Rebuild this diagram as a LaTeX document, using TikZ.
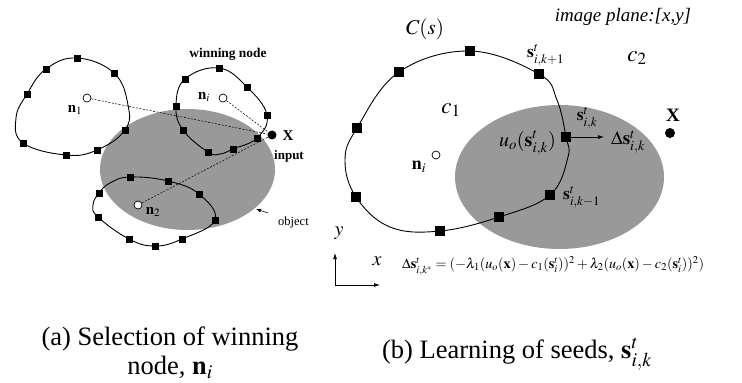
\documentclass[tikz,border=0pt]{standalone}
\usepackage{mathptmx}
\usepackage[no-math]{fontspec}
\setmainfont{Liberation Serif}
\usetikzlibrary{arrows.meta}
\newcommand{\fsz}[1]{\fontsize{#1}{1.2\dimexpr #1pt\relax}\selectfont}
\begin{document}
\begin{tikzpicture}[x=1pt,y=-1pt,
  sq/.style={rectangle,fill=black,draw=none,minimum size=7pt,inner sep=0pt,outer sep=0pt},
  bsq/.style={sq,minimum size=10pt},
  seedc/.style={circle,draw=black,fill=white,minimum size=8pt,inner sep=0pt,line width=0.7pt},
  blackdot/.style={circle,fill=black,minimum size=9pt,inner sep=0pt},
  contour/.style={line width=0.9pt},
  obj/.style={fill=black!40},
  dashln/.style={line width=0.5pt,dash pattern=on 2pt off 1.5pt},
  lbl/.style={inner sep=0pt},
  arr/.style={-{Latex[length=6pt,width=4pt]},line width=0.7pt}]
\useasboundingbox (0,0) rectangle (742,383);

% ---------- (a) ----------
\fill[obj] (187.5,169.5) ellipse [x radius=87.5pt, y radius=60.5pt];

\draw[contour] plot[smooth cycle, tension=0.7] coordinates {(77,58) (114,73) (128,105) (125,130) (97,150) (66,155) (23,143) (16,118) (27,94) (46,69)};
\draw[contour] plot[smooth cycle, tension=0.7] coordinates {(219,68) (247,87) (267,115) (257,138) (233,149) (220,154) (208,152) (183,130) (176,106) (185,79)};
\draw[contour] plot[smooth cycle, tension=0.7] coordinates {(130,177) (168,181) (199,194) (215,220) (182,239) (155,246) (129,239) (98,217) (93,205) (99,193) (110,183)};

\foreach \p [count=\i] in {(77,58),(114,73),(125,130),(97,150),(66,155),(23,143),(27,94),(46,69)} \node[sq] (la\i) at \p {};
\foreach \p [count=\i] in {(219,68),(247,87),(267,115),(257,138),(233,149),(208,152),(183,130),(176,106),(185,79)} \node[sq] (lb\i) at \p {};
\foreach \p [count=\i] in {(130,177),(168,181),(199,194),(215,220),(182,239),(155,246),(129,239),(98,217),(99,193)} \node[sq] (lc\i) at \p {};

\node[blackdot] (X) at (272,135) {};
\node[seedc] (n1) at (87,98) {};
\node[seedc] (ni) at (223,98) {};
\node[seedc] (n2) at (138,205) {};
\draw[dashln] (n1) -- (X);
\draw[dashln] (ni) -- (X);
\draw[dashln] (n2) -- (X);

\node[lbl,font=\fsz{15}] (n1l) at (75,110) {$\mathbf{n}_1$};
\node[lbl,font=\fsz{15}] (nil) at (204,97) {$\mathbf{n}_i$};
\node[lbl,font=\fsz{15}] (n2l) at (153,212) {$\mathbf{n}_2$};
\node[lbl,font=\fsz{13.4}\bfseries] (win) at (228,54) {winning node};
\node[lbl,font=\fsz{15}\bfseries] (Xl) at (288,136) {X};
\node[lbl,font=\fsz{13}\bfseries] (inp) at (289,156) {input};
\node[lbl,anchor=west,font=\fsz{12.5}] (objl) at (278,222) {object};
\coordinate (objtail) at (268,213);
\coordinate (objtip) at (256,209);
\draw[-{Latex[length=5pt,width=4pt]},line width=0.6pt] (objtail) -- (objtip);

\node[lbl,align=center,font=\fontsize{26.5}{28.5}\selectfont] (capa) at (170,353) {(a) Selection of winning\\ node, $\mathbf{n}_i$};

% ---------- (b) ----------
\fill[obj] (559.5,177) ellipse [x radius=104.5pt, y radius=72pt];
\draw[contour] plot[smooth cycle, tension=0.65] coordinates {(470,51) (539,74) (557,100) (566,137) (568,157) (550,195) (499,217) (440,231) (390,227) (356,197) (345,160) (357,128) (399,72)};
\foreach \p [count=\i] in {(470,51),(539,74),(566,137),(550,195),(499,217),(440,231),(356,197),(357,128),(399,72)} \node[bsq] (r\i) at \p {};

\node[seedc] (nir) at (436,155) {};
\node[lbl,font=\fsz{18}] (nirl) at (419,167) {$\mathbf{n}_i$};
\node[lbl,font=\fsz{21}] (Cs) at (425,29) {$C(s)$};
\node[lbl,font=\fsz{19}\itshape] (ip) at (623,17) {image plane:[x,y]};
\node[lbl,font=\fsz{23}] (c1) at (451,110) {$c_1$};
\node[lbl,font=\fsz{23}] (c2) at (637,58) {$c_2$};
\node[lbl,font=\fsz{19}\bfseries] (Xr) at (673,115) {X};
\node[blackdot,minimum size=10pt] (xdot) at (670,133) {};
\node[lbl,anchor=west,font=\fsz{17.5}] (sk1) at (527,55) {$\mathbf{s}^t_{i,k+1}$};
\node[lbl,font=\fsz{17.5}] (sk) at (587,118) {$\mathbf{s}^t_{i,k}$};
\node[lbl,anchor=west,font=\fsz{17.5}] (skm) at (563,197) {$\mathbf{s}^t_{i,k-1}$};
\node[lbl,anchor=east,font=\fsz{20}] (uo) at (556,143) {$u_o(\mathbf{s}^t_{i,k})$};
\node[lbl,anchor=west,font=\fsz{19}] (ds) at (611,142) {$\Delta\mathbf{s}^t_{i,k}$};
\coordinate (arrtip) at (604,137);
\draw[arr] (r3.east) -- (arrtip);

\coordinate (ax0) at (335,285);
\coordinate (axy) at (335,253);
\coordinate (axx) at (380,285);
\draw[arr] (ax0) -- (axy);
\draw[arr] (ax0) -- (axx);
\node[lbl,font=\fsz{20}] (yl) at (339,233) {$y$};
\node[lbl,font=\fsz{20}] (xl) at (377,261) {$x$};

\node[lbl,anchor=west,font=\fsz{14.2}] (eq) at (402,266) {$\Delta\mathbf{s}^t_{i,k^*}=(-\lambda_1(u_o(\mathbf{x})-c_1(\mathbf{s}^t_i))^2+\lambda_2(u_o(\mathbf{x})-c_2(\mathbf{s}^t_i))^2)$};

\node[lbl,font=\fsz{26.5}] (capb) at (517,354) {(b) Learning of seeds, $\mathbf{s}^t_{i,k}$};
\end{tikzpicture}
\end{document}
